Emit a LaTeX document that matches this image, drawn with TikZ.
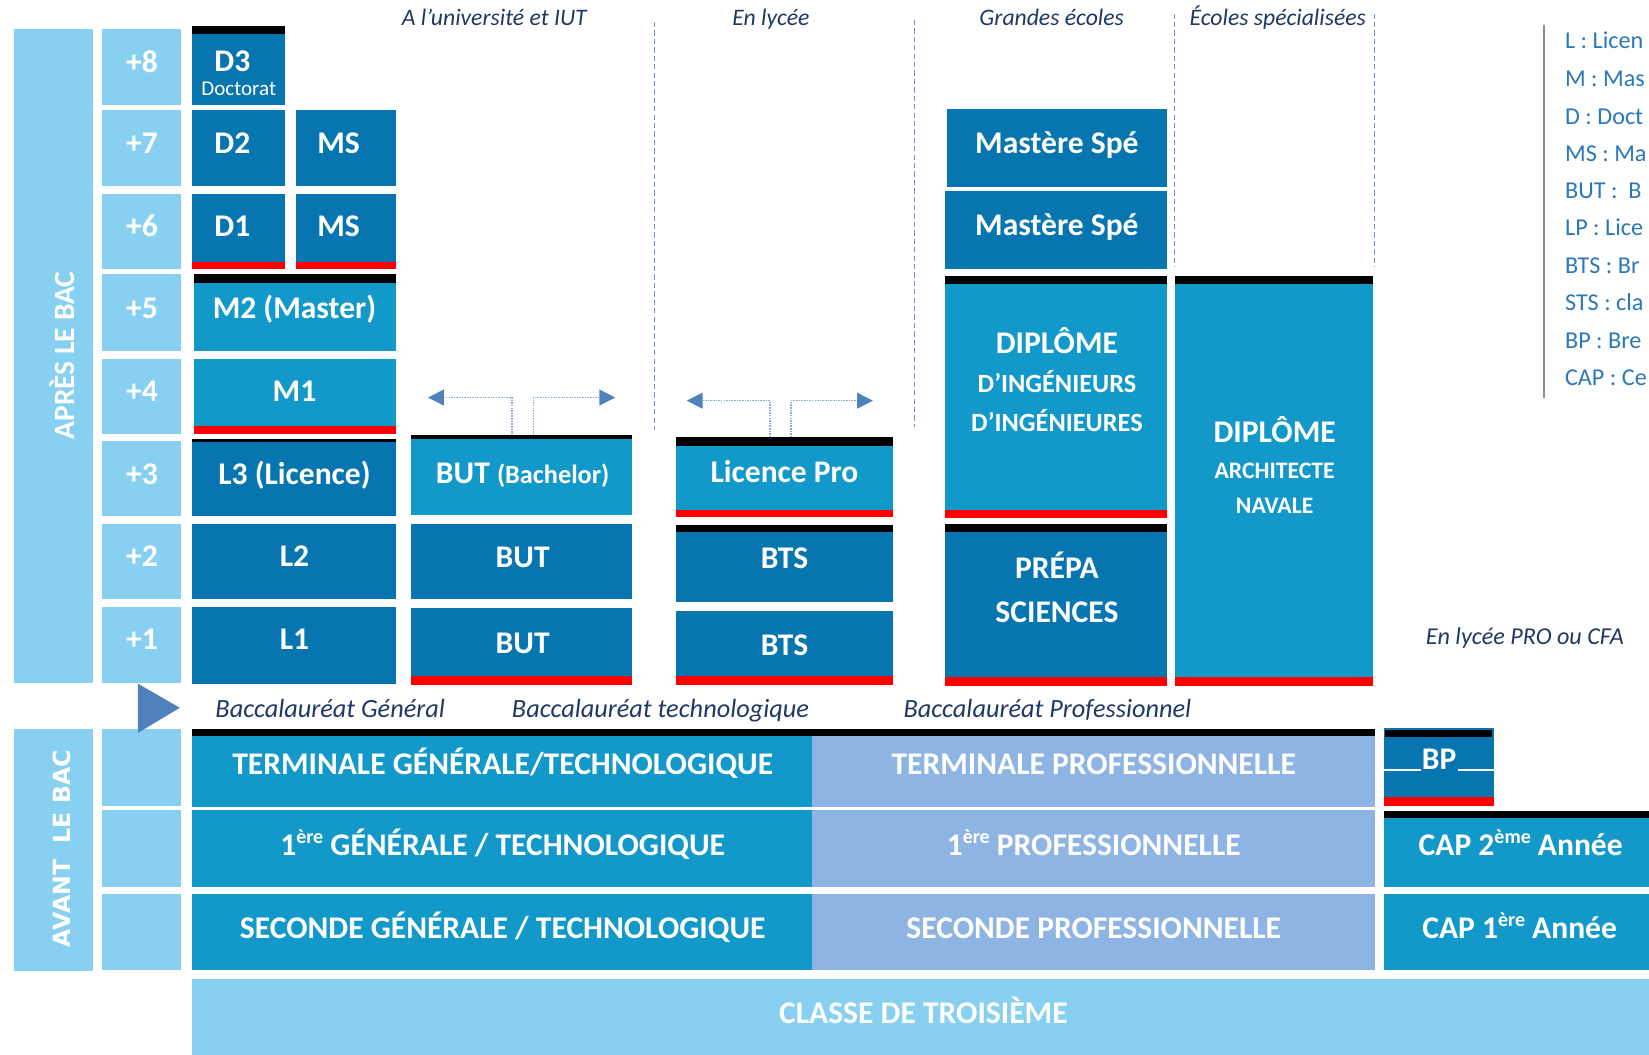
\documentclass[tikz,border=0pt]{standalone}
\usepackage{fontspec}
\setmainfont{Carlito}
\newfontfamily\avfont{DejaVu Sans}
\usetikzlibrary{arrows.meta}
\definecolor{dk}{HTML}{0776B0}
\definecolor{md}{HTML}{1399C9}
\definecolor{lt}{HTML}{88D0F2}
\definecolor{pw}{HTML}{8EB4E3}
\definecolor{ital}{HTML}{203864}
\definecolor{leg}{HTML}{2B78B8}
\definecolor{arrowc}{HTML}{4F81BD}
\definecolor{dashc}{HTML}{6F95CC}
\definecolor{dotc}{HTML}{8FAADC}
\definecolor{legline}{HTML}{8C8C8C}
\newcommand\rb[6]{\node[bx,fill=#6,minimum width={(#4-#2)*1pt},minimum height={(#5-#3)*1pt}] (#1) at ({(#2+#4)/2},{(#3+#5)/2}) {};}
\newcommand\tb[2]{\fill[black] (#1.north west) rectangle ([yshift=-#2pt]#1.north east);}
\newcommand\rbar[2]{\fill[red] (#1.south west) rectangle ([yshift=#2pt]#1.south east);}
\newcommand\sups[1]{\raisebox{11pt}{\fontsize{19}{19}\selectfont #1}}
\begin{document}
\begin{tikzpicture}[x=1pt,y=-1pt,
  bx/.style={inner sep=0pt,outer sep=0pt,draw=none},
  tt/.style={text=white,font=\bfseries\fontsize{30}{36}\selectfont,inner sep=0pt,anchor=base},
  tm/.style={text=white,font=\bfseries\fontsize{25}{30}\selectfont,inner sep=0pt,anchor=base},
  ta/.style={text=white,font=\bfseries\fontsize{22.5}{27}\selectfont,inner sep=0pt,anchor=base},
  td/.style={text=white,font=\fontsize{20}{24}\selectfont,inner sep=0pt,anchor=base},
  ith/.style={text=ital,font=\itshape\fontsize{22.5}{26}\selectfont,inner sep=0pt,anchor=base},
  itb/.style={text=ital,font=\itshape\fontsize{25}{29}\selectfont,inner sep=0pt,anchor=base},
  lgd/.style={text=leg,font=\fontsize{23}{28}\selectfont,inner sep=0pt,anchor=base west},
  sepl/.style={draw=dashc,line width=1pt,dash pattern=on 5pt off 3pt},
  conn/.style={draw=dotc,line width=1.3pt,dash pattern=on 1.5pt off 1pt,-{Triangle[length=15pt,width=15pt,color=arrowc,fill=arrowc]}},
]
\useasboundingbox (0,0) rectangle (1568,1003);
\clip (0,0) rectangle (1568,1003);

% ---------- left columns
\rb{apres}{13}{28}{88}{649}{lt}
\node[bx,rotate=90,text=white,font=\bfseries\fontsize{28}{30}\selectfont] (apresT) at (59,338) {APRÈS LE BAC};
\rb{y8}{97}{28}{172}{100}{lt}\node[tt] (y8t) at (135,69) {+8};
\rb{y7}{97}{105}{172}{177}{lt}\node[tt] (y7t) at (135,146) {+7};
\rb{y6}{97}{184}{172}{256}{lt}\node[tt] (y6t) at (135,225) {+6};
\rb{y5}{97}{261}{172}{334}{lt}\node[tt] (y5t) at (135,303) {+5};
\rb{y4}{97}{341}{172}{413}{lt}\node[tt] (y4t) at (135,382) {+4};
\rb{y3}{97}{419}{172}{491}{lt}\node[tt] (y3t) at (135,461) {+3};
\rb{y2}{97}{498}{172}{570}{lt}\node[tt] (y2t) at (135,539) {+2};
\rb{y1}{97}{577}{172}{649}{lt}\node[tt] (y1t) at (135,618) {+1};

\rb{avant}{13}{693}{88}{923}{lt}
\node[bx,rotate=90,text=white,font=\avfont\bfseries\fontsize{22.5}{26}\selectfont] (avantT) at (59,807) {AVANT~~LE BAC};
\rb{a3}{97}{693}{172}{766}{lt}
\rb{a2}{97}{770}{172}{843}{lt}
\rb{a1}{97}{850}{172}{922}{lt}

\fill[arrowc] (131,650) -- (171,673) -- (131,697) -- cycle;

% ---------- headings
\node[ith] (hU) at (470,24) {A l’université et IUT};
\node[ith] (hL) at (733,24) {En lycée};
\node[ith] (hG) at (1000,24) {Grandes écoles};
\node[ith] (hS) at (1215,24) {Écoles spécialisées};

\draw[sepl] (622,21) -- (622,409);
\draw[sepl] (870,19) -- (870,406);
\draw[sepl] (1117,13) -- (1117,254);
\draw[sepl] (1307,13) -- (1307,254);

% ---------- university
\rb{d3}{183}{25}{271}{100}{dk}\tb{d3}{7}
\node[tt] (d3t) at (221,68) {D3};
\node[td] (d3s) at (227,91) {Doctorat};
\rb{d2}{183}{105}{271}{177}{dk}\node[tt] (d2t) at (221,146) {D2};
\rb{ms7}{281}{105}{377}{177}{dk}\node[tt] (ms7t) at (322,146) {MS};
\rb{d1}{183}{184}{271}{256}{dk}\rbar{d1}{7}\node[tt] (d1t) at (221,225) {D1};
\rb{ms6}{281}{184}{377}{256}{dk}\rbar{ms6}{7}\node[tt] (ms6t) at (322,225) {MS};
\rb{m2}{184}{261}{377}{334}{md}\tb{m2}{8}\node[tt] (m2t) at (280,303) {M2 (Master)};
\rb{m1}{184}{341}{377}{413}{md}\rbar{m1}{8}\node[tt] (m1t) at (280,382) {M1};
\rb{l3}{183}{417}{377}{491}{dk}\tb{l3}{3}\node[tt] (l3t) at (280,461) {L3 (Licence)};
\rb{l2}{183}{498}{377}{570}{dk}\node[tt] (l2t) at (280,539) {L2};
\rb{l1}{183}{577}{377}{650}{dk}\node[tt] (l1t) at (280,618) {L1};

% ---------- BUT
\rb{but3}{391}{414}{601}{490}{md}\tb{but3}{3}
\node[tt] (but3t) at (497,460) {BUT {\fontsize{25}{30}\selectfont(Bachelor)}};
\rb{but2}{391}{498}{601}{570}{dk}\node[tt] (but2t) at (497,540) {BUT};
\rb{but1}{391}{578}{601}{651}{dk}\rbar{but1}{8}\node[tt] (but1t) at (497,621) {BUT};
\coordinate (uL) at (407,378);
\coordinate (uR) at (585,378);
\draw[conn] ([xshift=-9pt]but3.north) |- (uL);
\draw[conn] ([xshift=11pt]but3.north) |- (uR);

% ---------- lycee
\rb{lp}{643}{416}{849}{492}{md}\tb{lp}{8}\rbar{lp}{7}\node[tt] (lpt) at (746,459) {Licence Pro};
\rb{bts2}{643}{499}{849}{572}{dk}\tb{bts2}{7}\node[tt] (bts2t) at (746,541) {BTS};
\rb{bts1}{643}{581}{849}{651}{dk}\rbar{bts1}{8}\node[tt] (bts1t) at (746,623) {BTS};
\coordinate (lL) at (653,381);
\coordinate (lR) at (830,381);
\draw[conn] ([xshift=-14pt]lp.north) |- (lL);
\draw[conn] ([xshift=6pt]lp.north) |- (lR);

% ---------- grandes ecoles
\rb{msp7}{900}{104}{1110}{178}{dk}\node[tt] (msp7t) at (1005,146) {Mastère Spé};
\rb{msp6}{899}{182}{1110}{256}{dk}\node[tt] (msp6t) at (1005,224) {Mastère Spé};
\rb{ding}{899}{262}{1110}{493}{md}\tb{ding}{8}\rbar{ding}{8}
\node[tt] (dingA) at (1005,336) {DIPLÔME};
\node[tm] (dingB) at (1005,373) {D’INGÉNIEURS};
\node[tm] (dingC) at (1005,410) {D’INGÉNIEURES};
\rb{prepa}{899}{498}{1110}{652}{dk}\tb{prepa}{8}\rbar{prepa}{8}
\node[tt] (prepaA) at (1005,550) {PRÉPA};
\node[tt] (prepaB) at (1005,592) {SCIENCES};

% ---------- ecoles specialisees
\rb{archi}{1117}{262}{1306}{652}{md}\tb{archi}{8}\rbar{archi}{8}
\node[tt] (archiA) at (1212,421) {DIPLÔME};
\node[ta] (archiB) at (1212,455) {ARCHITECTE};
\node[ta] (archiC) at (1212,488) {NAVALE};

\node[ith,font=\itshape\fontsize{23}{26}\selectfont] (cfa) at (1450,613) {En lycée PRO ou CFA};

% ---------- bac labels
\node[itb] (bG) at (314,682) {Baccalauréat Général};
\node[itb] (bT) at (628,682) {Baccalauréat technologique};
\node[itb] (bP) at (996,682) {Baccalauréat Professionnel};

% ---------- before the bac
\rb{termg}{183}{693}{772}{767}{md}
\rb{termp}{772}{693}{1307}{767}{pw}
\fill[black] (termg.north west) rectangle ([yshift=-7pt]termp.north east);
\node[tt] (termgt) at (478,736) {TERMINALE GÉNÉRALE/TECHNOLOGIQUE};
\node[tt] (termpt) at (1040,736) {TERMINALE PROFESSIONNELLE};
\rb{premg}{183}{770}{772}{843}{md}
\rb{premp}{772}{770}{1307}{843}{pw}
\node[tt] (premgt) at (478,813) {1\sups{ère} GÉNÉRALE / TECHNOLOGIQUE};
\node[tt] (prempt) at (1040,813) {1\sups{ère} PROFESSIONNELLE};
\rb{secg}{183}{850}{772}{922}{md}
\rb{secp}{772}{850}{1307}{922}{pw}
\node[tt] (secgt) at (478,892) {SECONDE GÉNÉRALE / TECHNOLOGIQUE};
\node[tt] (secpt) at (1040,892) {SECONDE PROFESSIONNELLE};
\rb{trois}{183}{931}{1568}{1003}{lt}
\node[tt] (troist) at (878,973) {CLASSE DE TROISIÈME};

\rb{bp}{1316}{692}{1421}{766}{dk}
\fill[black] (1317,694) rectangle (1419,701);
\rbar{bp}{8}
\node[tt] (bpt) at (1368.5,732) {BP};
\draw[white,line width=1.5pt] (bp.west |- bpt.base) -- ([xshift=-1pt]bpt.base west);
\draw[white,line width=1.5pt] ([xshift=1pt]bpt.base east) -- (bp.east |- bpt.base);
\rb{cap2}{1316}{771}{1568}{843}{md}\tb{cap2}{7}
\node[tt] (cap2t) at (1446,813) {CAP 2\sups{ème} Année};
\rb{cap1}{1316}{850}{1568}{922}{md}
\node[tt] (cap1t) at (1445,892) {CAP 1\sups{ère} Année};

% ---------- legend
\draw[legline,line width=2pt] (1468,24) -- (1468,378);
\node[lgd] (g1) at (1488,46) {L : Licen};
\node[lgd] (g2) at (1488,82) {M : Mas};
\node[lgd] (g3) at (1488,118) {D : Doct};
\node[lgd] (g4) at (1488,154) {MS : Ma};
\node[lgd] (g5) at (1488,189) {BUT :\ \ B};
\node[lgd] (g6) at (1488,224) {LP : Lice};
\node[lgd] (g7) at (1488,260) {BTS : Br};
\node[lgd] (g8) at (1488,295) {STS : cla};
\node[lgd] (g9) at (1488,331) {BP : Bre};
\node[lgd] (g10) at (1488,367) {CAP : Ce};
\end{tikzpicture}
\end{document}
